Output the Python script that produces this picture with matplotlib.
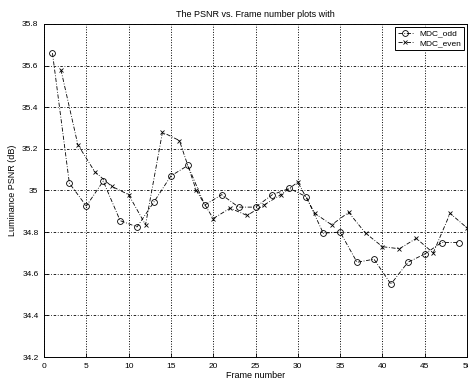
import matplotlib
matplotlib.use("Agg")
from matplotlib import pyplot as plt

# PSNR values
odd_frames = [1, 3, 5, 7, 9, 11, 13, 15, 17, 19, 21, 23, 25,
              27, 29, 31, 33, 35, 37, 39, 41, 43, 45, 47, 49]
odd_psnr = [35.66, 35.035, 34.925, 35.045, 34.855, 34.825, 34.945, 35.07, 35.12,
            34.93, 34.98, 34.92, 34.92, 34.98, 35.01, 34.97, 34.795, 34.80,
            34.655, 34.67, 34.55, 34.655, 34.695, 34.75, 34.75]

even_frames = [2, 4, 6, 8, 10, 12, 14, 16, 18, 20, 22, 24, 26,
               28, 30, 32, 34, 36, 38, 40, 42, 44, 46, 48, 50]
even_psnr = [35.58, 35.22, 35.09, 35.02, 34.98, 34.835, 35.28, 35.24, 35.0,
             34.865, 34.915, 34.88, 34.93, 34.98, 35.04, 34.89, 34.835, 34.895,
             34.795, 34.73, 34.72, 34.77, 34.70, 34.89, 34.82]

x_ticks = [0, 5, 10, 15, 20, 25, 30, 35, 40, 45, 50]
y_ticks = [34.2, 34.4, 34.6, 34.8, 35.0, 35.2, 35.4, 35.6, 35.8]
y_labels = ["34.2", "34.4", "34.6", "34.8", "35", "35.2", "35.4", "35.6", "35.8"]

plt.rcParams["font.family"] = ["Liberation Sans", "DejaVu Sans"]

fig = plt.figure(figsize=(4.68, 3.8), dpi=100)
ax = fig.add_axes([0.094, 0.0605, 0.904, 0.8765])

ax.plot(odd_frames, odd_psnr, color="black", linestyle=(0, (5, 2, 1, 2)), linewidth=0.6,
        marker="o", markersize=4.2, markerfacecolor="none", markeredgewidth=0.6,
        label="MDC_odd")
ax.plot(even_frames, even_psnr, color="black", linestyle=(0, (5, 2, 1, 2)), linewidth=0.6,
        marker="x", markersize=3.5, markeredgewidth=0.6,
        label="MDC_even")

ax.set_xlim(0, 50)
ax.set_ylim(34.2, 35.8)
ax.set_xticks(x_ticks)
ax.set_yticks(y_ticks)
ax.set_yticklabels(y_labels)
ax.tick_params(direction="in", length=3, width=0.6, labelsize=6, pad=4)
ax.xaxis.grid(True, color="black", linestyle=":", linewidth=0.7)
ax.yaxis.grid(True, color="black", linestyle=(0, (1, 2, 3, 2)), linewidth=0.6)
for s in ax.spines.values():
    s.set_linewidth(0.7)

ax.set_title("The PSNR vs. Frame number plots with", fontsize=6.5, pad=5)
ax.set_xlabel("Frame number", fontsize=6.5, labelpad=1)
ax.set_ylabel("Luminance PSNR (dB)", fontsize=6.5, labelpad=4)

leg = ax.legend(loc="upper right", fontsize=6, fancybox=False, framealpha=1,
                edgecolor="black", handlelength=1.8, borderaxespad=0.4,
                borderpad=0.3, labelspacing=0.2)
leg.get_frame().set_linewidth(0.7)

fig.savefig("out.png", dpi=100)
